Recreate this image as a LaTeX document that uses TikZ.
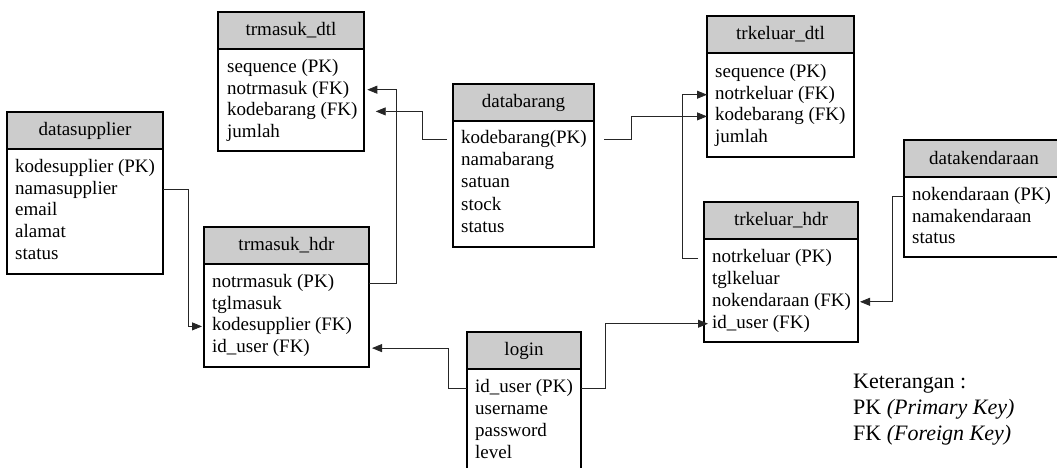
\documentclass[tikz,border=0pt]{standalone}
\usepackage{fontspec}
\setmainfont{Liberation Serif}
\usetikzlibrary{positioning,arrows.meta}
\begin{document}
\begin{tikzpicture}[x=1pt,y=-1pt,
	head/.style={draw, fill=black!20, line width=1.2pt, minimum height=37pt, inner sep=0, outer sep=0, anchor=north west, font=\fontsize{19}{22}\selectfont},
	body/.style={draw, fill=white, line width=1.2pt, inner sep=0, outer sep=0, below=0pt of #1},
	row/.style={anchor=west, inner sep=0, text height=13pt, text depth=4pt, font=\fontsize{19}{22}\selectfont},
	fk/.style={-{Triangle[length=10pt,width=8pt]}, line width=0.8pt, draw=black!85}]
	
	\clip (0,0) rectangle (1057,468);
	
	% tabel
	\node [head, minimum width=146pt] (mdtl) at (218,12) {trmasuk\_dtl};
	\node [body=mdtl, minimum width=146pt, minimum height=102pt] (mdtl-b) {};
	\foreach \t [count=\i] in {sequence (PK), notrmasuk (FK), kodebarang (FK), jumlah}
	\node [row] (mdtl-\i) at ([xshift=9pt, yshift={-19-(\i-1)*21.7}] mdtl-b.north west) {\t};
	
	\node [head, minimum width=156pt] (sup) at (7,112) {datasupplier};
	\node [body=sup, minimum width=156pt, minimum height=125pt] (sup-b) {};
	\foreach \t [count=\i] in {kodesupplier (PK), namasupplier, email, alamat, status}
	\node [row] (sup-\i) at ([xshift=8pt, yshift={-19-(\i-1)*21.7}] sup-b.north west) {\t};
	
	\node [head, minimum width=165pt] (mhdr) at (204,227) {trmasuk\_hdr};
	\node [body=mhdr, minimum width=165pt, minimum height=103pt] (mhdr-b) {};
	\foreach \t [count=\i] in {notrmasuk (PK), tglmasuk, kodesupplier (FK), id\_user (FK)}
	\node [row] (mhdr-\i) at ([xshift=8pt, yshift={-19-(\i-1)*21.7}] mhdr-b.north west) {\t};
	
	\node [head, minimum width=141pt] (brg) at (453,84) {databarang};
	\node [body=brg, minimum width=141pt, minimum height=126pt] (brg-b) {};
	\foreach \t [count=\i] in {kodebarang(PK), namabarang, satuan, stock, status}
	\node [row] (brg-\i) at ([xshift=8pt, yshift={-18-(\i-1)*22.2}] brg-b.north west) {\t};
	
	\node [head, minimum width=147pt] (kdtl) at (707,16) {trkeluar\_dtl};
	\node [body=kdtl, minimum width=147pt, minimum height=104pt] (kdtl-b) {};
	\foreach \t [count=\i] in {sequence (PK), notrkeluar (FK), kodebarang (FK), jumlah}
	\node [row] (kdtl-\i) at ([xshift=8pt, yshift={-20-(\i-1)*21.7}] kdtl-b.north west) {\t};
	
	\node [head, minimum width=154pt] (khdr) at (704,202) {trkeluar\_hdr};
	\node [body=khdr, minimum width=154pt, minimum height=103pt] (khdr-b) {};
	\foreach \t [count=\i] in {notrkeluar (PK), tglkeluar, nokendaraan (FK), id\_user (FK)}
	\node [row] (khdr-\i) at ([xshift=8pt, yshift={-19-(\i-1)*21.9}] khdr-b.north west) {\t};
	
	\node [head, minimum width=160pt] (kend) at (904,140) {datakendaraan};
	\node [body=kend, minimum width=160pt, minimum height=80pt] (kend-b) {};
	\foreach \t [count=\i] in {nokendaraan (PK), namakendaraan, status}
	\node [row] (kend-\i) at ([xshift=8pt, yshift={-19-(\i-1)*21.7}] kend-b.north west) {\t};
	
	\node [head, minimum width=114pt] (login) at (467,332) {login};
	\node [body=login, minimum width=114pt, minimum height=115pt] (login-b) {};
	\foreach \t [count=\i] in {id\_user (PK), username, password, level}
	\node [row] (login-\i) at ([xshift=8pt, yshift={-19-(\i-1)*21.9}] login-b.north west) {\t};
	
	% relasi
	\draw [fk] ([xshift=-6pt]brg-b.west |- brg-1) -- ++(-25,0) |- ([xshift=18pt]mdtl-3.east);
	\draw [fk] (mhdr-b.east |- mhdr-1) -- ++(27,0) |- ([xshift=18pt]mdtl-2.east);
	\draw [fk] (sup-b.east |- sup-2) -- ++(25,0) |- ([xshift=-10pt]mhdr-3.west);
	\draw [fk] (login-b.west |- login-1) -- ++(-19,0) |- ([xshift=3pt]mhdr-b.east |- mhdr-4);
	\draw [fk] (login-b.east |- login-1) -- ++(24,0) |- ([xshift=-4pt]khdr-4.west);
	\draw [fk] ([xshift=10pt]brg-b.east |- brg-1) -- ++(27,0) |- (kdtl-b.west |- kdtl-3);
	\draw [fk] ([xshift=-6pt]khdr-b.west |- khdr-1) -- ++(-16,0) |- (kdtl-b.west |- kdtl-2);
	\draw [fk] (kend-b.west |- kend-1) -- ++(-12,0) |- ([xshift=2pt]khdr-b.east |- khdr-3);
	
	\node [anchor=north west, align=left, inner sep=0, font=\fontsize{22}{26}\selectfont] (ket) at (853,374)
	{Keterangan :\\PK \textit{(Primary Key)}\\FK \textit{(Foreign Key)}};
\end{tikzpicture}
\end{document}
